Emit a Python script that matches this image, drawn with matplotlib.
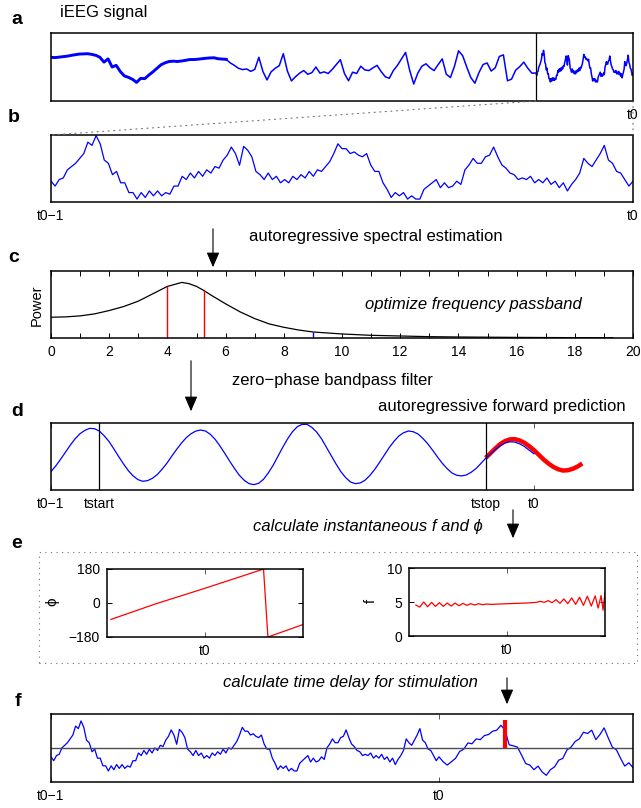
import numpy as np
import matplotlib
matplotlib.use("Agg")
import matplotlib.pyplot as plt
from matplotlib.patches import ConnectionPatch, FancyArrowPatch, Rectangle

plt.rcParams['font.family'] = ['Liberation Sans', 'DejaVu Sans']
plt.rcParams['font.size'] = 10

W, H = 641, 808

# --- data (time in s relative to t0) ---
# a: raw iEEG before the analysis window (-6 s .. -1 s)
eeg_early = [160, 158, 161, 164, 167, 172, 176, 180, 181, 182,
             178, 172, 160, 130, 150, 100, 110, 72, 45, 36,
             24, 5, 30, 28, 50, 70, 92, 114, 126, 134,
             136, 134, 137, 141, 146, 146, 148, 151, 154, 156,
             157, 151, 149, 147, 125, 110, 92, 84, 88, 73,
             85, 160, 72, 20, 70, 92, 108, 182, 75, 14,
             40, 62, 78, 55, 65, 100, 62, 70, 60, 85,
             115, 145, 60, 15, 68, 60, 105, 82, 78, 95,
             110, 72, 40, 30, 78, 110, 150, 190, 80, -5,
             62, 105, 120, 95, 78, 115, 150, 55, 35, 105,
             200, 170, 100, 35, 0, 65, 115, 125, 75, 95,
             165, 175, 15, 25, 80, 102, 130, 92, 62]
# b: analysis window t0-1 .. t0
eeg_window = [63, 48, 68, 73, 98, 108, 118, 133, 148, 183, 173, 203, 178, 128, 118,
              83, 93, 58, 58, 28, 28, 8, 28, 13, 33, 18, 33, 18, 28, 23, 48, 48, 78,
              68, 88, 73, 93, 78, 98, 88, 108, 103, 128, 143, 168, 148, 112, 170, 158,
              138, 93, 83, 68, 88, 68, 78, 58, 68, 58, 78, 68, 83, 73, 93, 78, 98, 93,
              108, 123, 148, 178, 163, 163, 148, 153, 143, 138, 148, 113, 93, 93, 58,
              38, 13, 28, 18, 28, 8, 18, 8, 8, 38, 48, 58, 68, 43, 58, 43, 48, 63, 53,
              98, 113, 133, 118, 118, 138, 143, 168, 138, 113, 103, 88, 83, 68, 73, 68,
              78, 58, 68, 58, 73, 53, 63, 43, 58, 33, 53, 68, 88, 133, 118, 108, 128,
              148, 173, 128, 118, 93, 88, 68, 48, 63]
# f: signal after t0 (0 .. 0.5 s)
eeg_after = [44, 31, 44, 57, 84, 93, 117, 114, 133, 130, 146, 150, 163, 167, 186, 167,
             110, 106, 101, 70, 37, 31, 13, 27, 4, -9, 13, 24, 50, 57, 90, 101, 123,
             133, 159, 154, 167, 130, 150, 176, 137, 101, 90, 57, 27, 40, 21]
eeg_mean = 98
t_stim = 0.17
stim_top = 207

# c: AR spectrum
spec_freq = [0, 0.5, 1, 1.5, 2, 2.5, 3, 3.5, 4, 4.25, 4.5, 4.75, 5, 5.25, 5.5, 6, 6.5,
             7, 7.5, 8, 8.5, 9, 10, 11, 12, 13, 14, 15, 16, 17, 18, 19.3]
spec_power = [0.31, 0.315, 0.33, 0.36, 0.41, 0.47, 0.55, 0.66, 0.77, 0.80, 0.83, 0.81,
              0.77, 0.71, 0.64, 0.51, 0.39, 0.29, 0.21, 0.16, 0.12, 0.09, 0.06, 0.04,
              0.03, 0.02, 0.015, 0.012, 0.009, 0.007, 0.005, 0.004]
band_freq = [4.0, 5.25]
band_power = [0.77, 0.71]
mark_freq, mark_power = 9.0, 0.09

# d: filtered signal (-1 .. 0 s, 10 ms steps) and AR prediction (-0.1 .. 0.1 s)
filt_v = [-0.45, -0.28, -0.08, 0.13, 0.34, 0.53, 0.68, 0.78, 0.84, 0.83,
          0.76, 0.62, 0.45, 0.23, 0.00, -0.22, -0.42, -0.58, -0.69, -0.74,
          -0.72, -0.65, -0.54, -0.38, -0.20, 0.01, 0.21, 0.40, 0.56, 0.68,
          0.76, 0.79, 0.76, 0.66, 0.51, 0.31, 0.09, -0.14, -0.36, -0.56,
          -0.71, -0.81, -0.84, -0.80, -0.68, -0.49, -0.26, 0.01, 0.28, 0.53,
          0.74, 0.89, 0.96, 0.96, 0.87, 0.73, 0.53, 0.28, 0.03, -0.22,
          -0.45, -0.63, -0.76, -0.81, -0.79, -0.71, -0.57, -0.39, -0.18, 0.04,
          0.26, 0.45, 0.61, 0.71, 0.76, 0.74, 0.67, 0.54, 0.38, 0.19,
          -0.01, -0.20, -0.36, -0.49, -0.56, -0.58, -0.55, -0.47, -0.36, -0.21,
          -0.05, 0.07, 0.21, 0.32, 0.40, 0.44, 0.43, 0.38, 0.30, 0.19,
          0.08]
pred_v = [-0.04, 0.10, 0.24, 0.37, 0.46, 0.51, 0.52, 0.48, 0.41, 0.31, 0.19, 0.05,
          -0.09, -0.21, -0.31, -0.38, -0.42, -0.41, -0.37, -0.30, -0.21]
t_start, t_stop = -0.9, -0.1

# e: instantaneous phase and frequency
phase_t = [-0.096, -0.05, 0.0, 0.05, 0.0597, 0.0642, 0.1]
phase_deg = [-87, -4, 78, 163, 180, -180, -114]
inst_t = [-0.093, -0.089, -0.085, -0.081, -0.077, -0.073, -0.069, -0.065, -0.061, -0.057,
          -0.053, -0.049, -0.045, -0.041, -0.037, -0.033, -0.029, -0.025, -0.021, -0.016,
          0.0, 0.02, 0.03, 0.034, 0.038, 0.042, 0.046, 0.05, 0.054, 0.058,
          0.062, 0.066, 0.07, 0.074, 0.078, 0.082, 0.086, 0.09, 0.093, 0.096,
          0.098, 0.1]
inst_f = [4.55, 4.25, 5.0, 4.3, 4.95, 4.35, 4.9, 4.35, 4.85, 4.4,
          4.85, 4.45, 4.8, 4.5, 4.75, 4.55, 4.75, 4.6, 4.7, 4.65,
          4.75, 4.85, 4.95, 5.1, 4.95, 5.2, 4.9, 5.35, 4.8, 5.45,
          4.75, 5.6, 4.65, 5.7, 4.5, 5.85, 4.4, 5.9, 4.1, 5.95,
          3.8, 6.4]

BLUE = (0, 0, 1)
RED = (1, 0, 0)


def px_axes(fig, left, top, right, bottom):
    return fig.add_axes([left / W, 1 - bottom / H, (right - left) / W, (bottom - top) / H])


def fxy(x, y):
    return x / W, 1 - y / H


def style(ax, xticks=(), labels=(), yticks=(), ylabels=()):
    ax.set_xticks(list(xticks))
    ax.set_xticklabels(list(labels))
    ax.set_yticks(list(yticks))
    ax.set_yticklabels(list(ylabels))
    ax.tick_params(direction='in', length=3.5, width=0.7, top=True, right=True,
                   labelsize=10, pad=5, colors='k')
    ax.tick_params(axis='x', colors='0.35', labelcolor='k')
    for s in ax.spines.values():
        s.set_linewidth(1.1)


def arrow(fig, x, y0, y1):
    fig.add_artist(FancyArrowPatch(fxy(x, y0), fxy(x, y1), transform=fig.transFigure,
                                   arrowstyle='-|>,head_length=0.65,head_width=0.28',
                                   mutation_scale=14, color='k', lw=0.8))


fig = plt.figure(figsize=(W / 100, H / 100), dpi=100)

t_early = np.linspace(-6, -1, len(eeg_early), endpoint=False)
t_win = np.linspace(-1, 0, len(eeg_window))
t_after = np.linspace(0, 0.5, len(eeg_after) + 1)[1:]

# a
ax_a = px_axes(fig, 51, 33, 633, 101)
n_thick = 44
ax_a.plot(np.concatenate([t_early, t_win]), eeg_early + eeg_window, color=BLUE, lw=1.1)
ax_a.plot(t_early[:n_thick], eeg_early[:n_thick], color=BLUE, lw=2.1)
ax_a.axvline(-1, color='k', lw=0.9)
ax_a.set_xlim(-6, 0)
ax_a.set_ylim(-110, 310)
style(ax_a, [0], ['t0'])
ax_a.tick_params(axis='x', length=0)

# b
ax_b = px_axes(fig, 51, 135, 633, 202)
ax_b.plot(t_win, eeg_window, color=BLUE, lw=0.9)
ax_b.set_xlim(-1, 0)
ax_b.set_ylim(-1, 205)
style(ax_b, [-1, 0], ['t0\u22121', 't0'])
ax_b.tick_params(axis='x', length=0)

for xa, xb in [((-1, -110), (-1, 205)), ((0, -110), (0, 205))]:
    fig.add_artist(ConnectionPatch(xyA=xa, coordsA='data', axesA=ax_a,
                                   xyB=xb, coordsB='data', axesB=ax_b,
                                   ls=(0, (1, 4)), color='0.45', lw=0.8))

# c
ax_c = px_axes(fig, 51, 271, 633, 338)
ax_c.plot(spec_freq, spec_power, color='k', lw=0.9)
ax_c.vlines(band_freq, 0, band_power, color=RED, lw=1.0)
ax_c.vlines([mark_freq], 0, [mark_power], color=BLUE, lw=1.0)
ax_c.set_xlim(0, 20)
ax_c.set_ylim(0, 1)
style(ax_c, range(21), [str(v) if v % 2 == 0 else '' for v in range(21)])
ax_c.tick_params(axis='x', colors='k')
ax_c.text(14.5, 0.5, 'optimize frequency passband', style='italic', fontsize=12,
          ha='center', va='center')
fig.text(*fxy(37, 305), 'Power', rotation=90, ha='center', va='center', fontsize=10.5)

# d
ax_d = px_axes(fig, 51, 423, 633, 490)
t_filt = np.linspace(-1, 0, len(filt_v))
t_pred = np.linspace(t_stop, 0.1, len(pred_v))
ax_d.plot(t_pred, pred_v, color=RED, lw=3.2, solid_capstyle='butt')
ax_d.plot(t_filt, filt_v, color=BLUE, lw=0.9)
ax_d.axvline(t_start, color='k', lw=0.9)
ax_d.axvline(t_stop, color='k', lw=0.9)
ax_d.set_xlim(-1, 0.205)
ax_d.set_ylim(-1, 1)
style(ax_d, [-1, t_start, t_stop, 0], ['t0\u22121', 'tstart', 'tstop', 't0'])

# e
fig.add_artist(Rectangle(fxy(39, 663), (637 - 39) / W, (663 - 552) / H,
                         transform=fig.transFigure, fill=False, ls=(0, (1, 4)),
                         ec='0.45', lw=0.8))
ax_e1 = px_axes(fig, 107, 569, 303, 637)
ax_e1.plot(phase_t, phase_deg, color=RED, lw=0.9)
ax_e1.set_xlim(-0.1, 0.1)
ax_e1.set_ylim(-180, 180)
style(ax_e1, [0], ['t0'], [-180, 0, 180], ['\u2212180', '0', '180'])
fig.text(*fxy(52, 602), '\u03d5', rotation=90, ha='center', va='center', fontsize=11)

ax_e2 = px_axes(fig, 409, 568, 605, 636)
ax_e2.plot(inst_t, inst_f, color=RED, lw=0.9)
ax_e2.set_xlim(-0.1, 0.1)
ax_e2.set_ylim(0, 10)
style(ax_e2, [0], ['t0'], [0, 5, 10], ['0', '5', '10'])
fig.text(*fxy(371, 601), 'f', rotation=90, ha='center', va='center', fontsize=10.5)

# f
ax_f = px_axes(fig, 51, 714, 633, 782)
ax_f.plot(np.concatenate([t_win, t_after]), eeg_window + eeg_after, color=BLUE, lw=0.9)
ax_f.axhline(eeg_mean, color='0.3', lw=1.0)
ax_f.vlines([t_stim], eeg_mean, stim_top, color=RED, lw=3.0)
ax_f.set_xlim(-1, 0.5)
ax_f.set_ylim(-35, 230)
style(ax_f, [-1, 0], ['t0\u22121', 't0'])

# annotations
fig.text(*fxy(60, 12), 'iEEG signal', fontsize=12, va='center')
fig.text(*fxy(376, 236), 'autoregressive spectral estimation', fontsize=12,
         ha='center', va='center')
fig.text(*fxy(332, 381), 'zero\u2212phase bandpass filter', fontsize=12,
         ha='center', va='center')
fig.text(*fxy(626, 406), 'autoregressive forward prediction', fontsize=12,
         ha='right', va='center')
fig.text(*fxy(368, 527), 'calculate instantaneous f and \u03d5', fontsize=12,
         style='italic', ha='center', va='center')
fig.text(*fxy(350, 683), 'calculate time delay for stimulation', fontsize=12,
         style='italic', ha='center', va='center')

arrow(fig, 213, 226, 270)
arrow(fig, 191, 358, 414)
arrow(fig, 513, 507, 541)
arrow(fig, 507, 675, 707)

for lab, x, y in [('a', 17, 20), ('b', 14, 118), ('c', 14, 257),
                  ('d', 17, 411), ('e', 17, 543), ('f', 18, 702)]:
    fig.text(*fxy(x, y), lab, fontsize=14, fontweight='bold', ha='center', va='center')

fig.savefig('out.png', dpi=100)
